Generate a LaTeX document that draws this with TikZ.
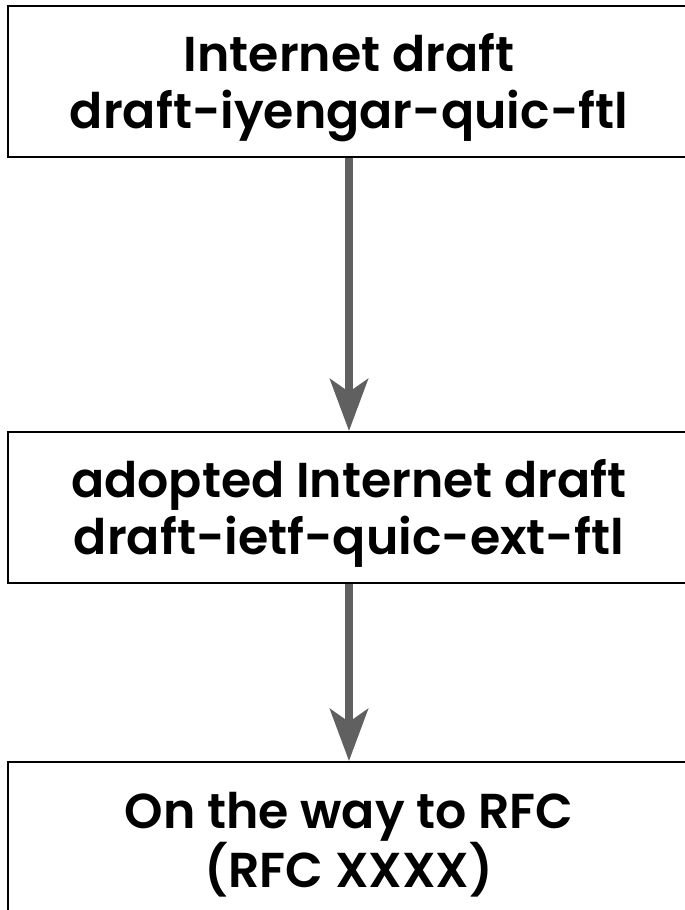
\documentclass[tikz,border=0pt]{standalone}
\usepackage{fontspec}
\setmainfont{Poppins SemiBold}
\usetikzlibrary{arrows.meta,positioning}

\definecolor{arrowgray}{HTML}{606060}
\newcommand\stagestrut{\rule{0pt}{50pt}}
\tikzset{stage/.style={draw,line width=2pt,minimum width=682pt,minimum height=151pt,
    align=center,inner sep=0pt,font=\fontsize{49}{57}\selectfont}}
\tikzset{flow/.style={draw=arrowgray,line width=8pt,
    -{Stealth[length=52pt,width=38pt,inset=13pt]}}}

\begin{document}
\begin{tikzpicture}
\useasboundingbox (0,0) rectangle (685pt,910pt);
\node[stage] at (349pt,828.5pt) (draft) {\stagestrut Internet draft\\draft-iyengar-quic-ftl};
\node[stage,below=273pt of draft] (adopted) {\stagestrut adopted Internet draft\\draft-ietf-quic-ext-ftl};
\node[stage,below=177pt of adopted] (rfc) {\stagestrut On the way to RFC\\(RFC XXXX)};
\draw[flow] (draft) -- (adopted);
\draw[flow] (adopted) -- (rfc);
\end{tikzpicture}
\end{document}
